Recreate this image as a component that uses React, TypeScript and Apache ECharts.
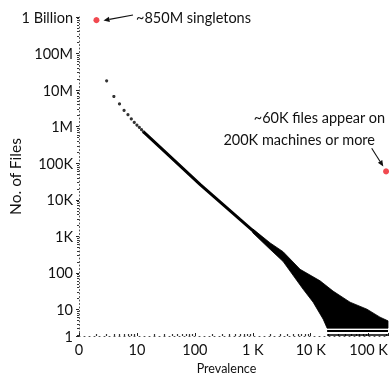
import React, { useEffect, useRef } from "react";
import * as echarts from "echarts";

// Both axes of the original figure are log10(value + 1): prevalence 0 sits at the origin.
const singletonPoint = [1, 820000000];
const widespreadPoint = [200000, 60000];

const headPrevalence = [2, 3, 4, 5, 6, 7, 8, 9, 10, 11, 12];
const headFiles = [18000000, 6700000, 4200000, 2790000, 2130000, 1630000, 1310000, 1110000, 960000, 830000, 718000];

const trendPrevalence = [12, 24, 123, 600, 2000, 3300];
const trendFiles = [718000, 275000, 26000, 2900, 550, 270];

const spreadUpperPrevalence = [1000, 2000, 3340, 6560, 14500, 24300, 47800, 93800, 157000, 216000];
const spreadUpperFiles = [1600, 660, 380, 125, 60, 31, 14.9, 9.2, 5.2, 3.9];
const spreadLowerPrevalence = [216000, 19200, 16400, 11000, 7400, 3340, 2000, 1000];
const spreadLowerFiles = [2.1, 2.1, 4.46, 14.9, 34.9, 205, 440, 1250];

const floorPrevalence = [19200, 216000];
const floorFilesUpper = [1.6, 1.6];
const floorFilesLower = [1, 1];

const xTickLabels: Record<number, string> = { 0: "0", 1: "10", 2: "100", 3: "1 K", 4: "10 K", 5: "100 K" };
const yTickLabels: Record<number, string> = {
  1: "10", 2: "100", 3: "1K", 4: "10K", 5: "100K", 6: "1M", 7: "10M", 8: "100M", 9: "1 Billion",
};

const shift = (v: number) => v + 1;
const pairs = (xs: number[], ys: number[]) => xs.map((x, i) => [shift(x), shift(ys[i])]);

const FONT = "Lato, 'Open Sans', sans-serif";

function arrow(x1: number, y1: number, x2: number, y2: number) {
  const dx = x2 - x1, dy = y2 - y1;
  const len = Math.hypot(dx, dy);
  const ux = dx / len, uy = dy / len;
  const hl = 6, hw = 2.6;
  const bx = x2 - ux * hl, by = y2 - uy * hl;
  return [
    { type: "line", shape: { x1, y1, x2: bx, y2: by }, style: { stroke: "#111", lineWidth: 1.1 } },
    {
      type: "polygon",
      shape: { points: [[x2, y2], [bx - uy * hw, by + ux * hw], [bx + uy * hw, by - ux * hw]] },
      style: { fill: "#111" },
    },
  ];
}

export default function App() {
  const ref = useRef<HTMLDivElement>(null);
  useEffect(() => {
    if (!ref.current) return;
    const chart = echarts.init(ref.current, null, { renderer: "svg" });
    const polygonPts = [
      ...pairs(spreadUpperPrevalence, spreadUpperFiles),
      ...pairs(spreadLowerPrevalence, spreadLowerFiles),
    ];
    chart.setOption({
      animation: false,
      grid: { left: 79, right: 2, top: 17, bottom: 43, containLabel: false, outerBoundsMode: "none" },
      xAxis: {
        type: "log",
        logBase: 10,
        min: 1,
        max: 216001,
        name: "Prevalence",
        nameLocation: "middle",
        nameGap: 26,
        nameMoveOverlap: false,
        nameTextStyle: { fontFamily: FONT, fontSize: 12.5, color: "#111", padding: [0, 14, 0, 0] },
        axisLine: { show: true, onZero: false, lineStyle: { color: "#555", width: 1, type: [1, 4] } },
        axisTick: { show: true, inside: true, length: 3, lineStyle: { color: "#222", width: 1 } },
        minorTick: { show: true, splitNumber: 9, length: 2, lineStyle: { color: "#333", width: 1.2 } },
        splitLine: { show: false },
        axisLabel: {
          fontFamily: FONT,
          fontSize: 14.5,
          color: "#111",
          margin: 6,
          showMaxLabel: false,
          formatter: (v: number) => {
            const e = Math.log10(v);
            const r = Math.round(e);
            if (Math.abs(e - r) > 1e-6) return "";
            return xTickLabels[r] ?? "";
          },
        },
      },
      yAxis: {
        type: "log",
        logBase: 10,
        min: 1.89,
        max: 1000000000,
        name: "No. of Files",
        nameLocation: "middle",
        nameGap: 56,
        nameMoveOverlap: false,
        nameTextStyle: { fontFamily: FONT, fontSize: 15.5, color: "#111" },
        axisLine: { show: true, onZero: false, lineStyle: { color: "#555", width: 1, type: [1, 2.5] } },
        axisTick: { show: true, inside: false, length: 3, lineStyle: { color: "#222", width: 1 } },
        minorTick: { show: true, splitNumber: 9, length: 2, lineStyle: { color: "#333", width: 1.2 } },
        splitLine: { show: false },
        axisLabel: {
          fontFamily: FONT,
          fontSize: 14.5,
          color: "#111",
          margin: 6,
          formatter: (v: number) => {
            if (v < 5) return "1";
            const e = Math.log10(v);
            const r = Math.round(e);
            if (Math.abs(e - r) > 1e-6) return "";
            return yTickLabels[r] ?? "";
          },
        },
      },
      series: [
        {
          type: "custom",
          coordinateSystem: "cartesian2d",
          silent: true,
          clip: false,
          z: 2,
          data: [polygonPts[0]],
          renderItem: (_p: any, api: any) => ({
            type: "polygon",
            shape: { points: polygonPts.map((p) => api.coord(p)) },
            style: { fill: "#000", stroke: "#000", lineWidth: 0.8 },
          }),
        },
        {
          type: "line",
          silent: true,
          z: 3,
          symbol: "none",
          data: pairs(trendPrevalence, trendFiles),
          lineStyle: { color: "#000", width: 3 },
        },
        {
          type: "line",
          silent: true,
          z: 3,
          symbol: "none",
          data: pairs(floorPrevalence, floorFilesUpper),
          lineStyle: { color: "#000", width: 2 },
        },
        {
          type: "line",
          silent: true,
          z: 3,
          symbol: "none",
          data: pairs(floorPrevalence, floorFilesLower),
          lineStyle: { color: "#000", width: 1.5 },
        },
        {
          type: "scatter",
          silent: true,
          z: 4,
          symbolSize: 3.2,
          itemStyle: { color: "#000" },
          data: pairs(headPrevalence, headFiles),
        },
        {
          type: "scatter",
          silent: true,
          z: 5,
          symbolSize: 6,
          itemStyle: { color: "#ee1c24" },
          data: [
            [shift(singletonPoint[0]), shift(singletonPoint[1])],
            [shift(widespreadPoint[0]), shift(widespreadPoint[1])],
          ],
        },
      ],
      graphic: [
        {
          type: "text",
          x: 136,
          y: 17,
          style: { text: "~850M singletons", font: `14.5px ${FONT}`, fill: "#111", verticalAlign: "middle", align: "left" },
        },
        ...arrow(133, 15, 103.5, 20.5),
        {
          type: "text",
          x: 385,
          y: 117.5,
          style: { text: "~60K files appear on", font: `14.5px ${FONT}`, fill: "#111", verticalAlign: "middle", align: "right" },
        },
        {
          type: "text",
          x: 375,
          y: 139,
          style: { text: "200K machines or more", font: `14.5px ${FONT}`, fill: "#111", verticalAlign: "middle", align: "right" },
        },
        ...arrow(371.7, 148.3, 383.3, 166.5),
      ],
    });
    return () => chart.dispose();
  }, []);
  return <div ref={ref} style={{ position: "fixed", left: 0, top: 0, width: 390, height: 379 }} />;
}
